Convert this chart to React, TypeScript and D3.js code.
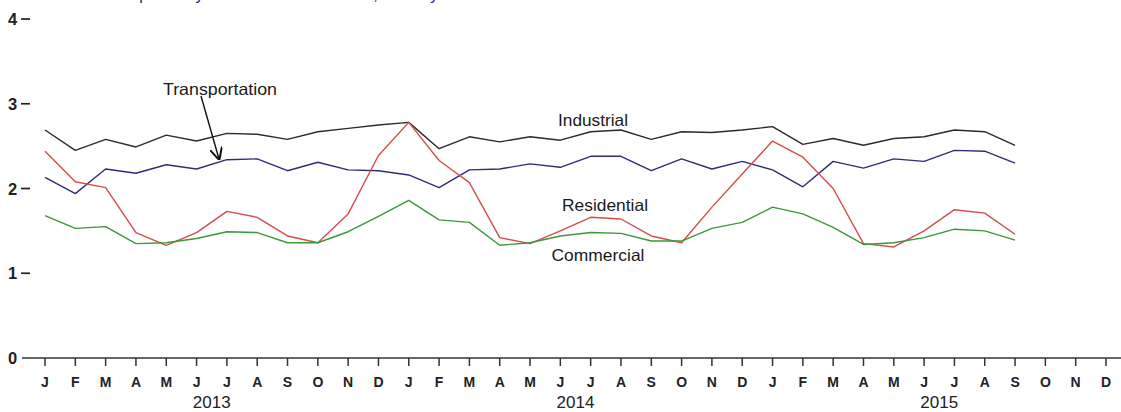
import React from "react";
import * as d3 from "d3";

const monthLetters = ["J", "F", "M", "A", "M", "J", "J", "A", "S", "O", "N", "D"];
const years = ["2013", "2014", "2015"];
const yTicks = [0, 1, 2, 3, 4];

const industrial = [2.69, 2.45, 2.58, 2.49, 2.63, 2.56, 2.65, 2.64, 2.58, 2.67, 2.71, 2.75,
  2.78, 2.47, 2.61, 2.55, 2.61, 2.57, 2.67, 2.69, 2.58, 2.67, 2.66, 2.69,
  2.73, 2.52, 2.59, 2.51, 2.59, 2.61, 2.69, 2.67, 2.51];
const transportation = [2.13, 1.94, 2.23, 2.18, 2.28, 2.23, 2.34, 2.35, 2.21, 2.31, 2.22, 2.21,
  2.16, 2.01, 2.22, 2.23, 2.29, 2.25, 2.38, 2.38, 2.21, 2.35, 2.23, 2.32,
  2.22, 2.02, 2.32, 2.24, 2.35, 2.32, 2.45, 2.44, 2.30];
const residential = [2.44, 2.08, 2.01, 1.48, 1.33, 1.48, 1.73, 1.66, 1.44, 1.36, 1.70, 2.39,
  2.78, 2.33, 2.07, 1.42, 1.35, 1.50, 1.66, 1.64, 1.44, 1.36, 1.78, 2.17,
  2.56, 2.37, 2.00, 1.35, 1.31, 1.50, 1.75, 1.71, 1.46];
const commercial = [1.68, 1.53, 1.55, 1.35, 1.36, 1.41, 1.49, 1.48, 1.36, 1.36, 1.49, 1.67,
  1.86, 1.63, 1.60, 1.33, 1.36, 1.44, 1.48, 1.47, 1.38, 1.38, 1.53, 1.60,
  1.78, 1.70, 1.54, 1.34, 1.36, 1.42, 1.52, 1.50, 1.39];

const series = [
  { name: "Industrial", values: industrial, color: "#2b2b2b" },
  { name: "Transportation", values: transportation, color: "#2d2d7c" },
  { name: "Residential", values: residential, color: "#d64b4b" },
  { name: "Commercial", values: commercial, color: "#3a983a" },
];

const W = 1121;
const H = 412;
const font = "Liberation Sans, Arial, sans-serif";

export default function App() {
  const months = years.flatMap((yr) => monthLetters.map((m) => ({ m, yr })));
  const x = d3.scaleLinear().domain([0, months.length - 1]).range([45, 1106]);
  const y = d3.scaleLinear().domain([0, 4]).range([358, 19]);
  const line = d3
    .line<number>()
    .x((_, i) => x(i))
    .y((v) => y(v));

  const label = (txt: string, cx: number, cy: number, len: number) => (
    <text x={cx - len / 2} y={cy + 5.8} fontSize={16.5} fill="#1a1a1a" textLength={len} lengthAdjust="spacingAndGlyphs">
      {txt}
    </text>
  );

  return (
    <div style={{ position: "absolute", left: 0, top: 0 }}>
      <svg width={W} height={H} style={{ display: "block", background: "#fff" }} fontFamily={font}>
        <defs>
          <marker id="arr" viewBox="0 0 10 10" refX="9" refY="5" markerWidth="9" markerHeight="9" orient="auto">
            <path d="M0,0 L10,5 L0,10" fill="none" stroke="#111" strokeWidth="1.6" />
          </marker>
        </defs>
        <text x={94} y={-0.5} fontSize={16} fill="#2a2a7a">
          Retail prices by end-use sector in cents, monthly
        </text>
        {/* y tick labels */}
        {yTicks.map((t) => (
          <g key={t}>
            <text x={12.5} y={y(t) + 6} fontSize={16.5} fontWeight="bold" textAnchor="middle" fill="#222">
              {t}
            </text>
            {t !== 0 && <line x1={21} x2={30} y1={y(t)} y2={y(t)} stroke="#222" strokeWidth={1.7} />}
          </g>
        ))}
        {/* x axis */}
        <line x1={22} x2={W} y1={y(0)} y2={y(0)} stroke="#333" strokeWidth={1.6} />
        {months.map((d, i) => (
          <g key={i}>
            <line x1={x(i)} x2={x(i)} y1={y(0)} y2={y(0) + 8} stroke="#333" strokeWidth={1.5} />
            <text x={x(i)} y={387} fontSize={14} fontWeight="bold" textAnchor="middle" fill="#222">
              {d.m}
            </text>
          </g>
        ))}
        {years.map((yr, k) => (
          <text key={yr} x={(x(k * 12 + 5) + x(k * 12 + 6)) / 2} y={407.5} fontSize={17} textAnchor="middle" fill="#222">
            {yr}
          </text>
        ))}
        {/* lines */}
        {series.map((s) => (
          <path key={s.name} d={line(s.values) || ""} fill="none" stroke={s.color} strokeWidth={1.4} strokeLinejoin="round" />
        ))}
        {/* labels */}
        {label("Transportation", 220, 89.5, 114)}
        <line x1={201} y1={96} x2={219} y2={159} stroke="#111" strokeWidth={1.4} markerEnd="url(#arr)" />
        {label("Industrial", 593, 120.5, 70)}
        {label("Residential", 605, 205, 86)}
        {label("Commercial", 598, 255, 93)}
      </svg>
    </div>
  );
}
